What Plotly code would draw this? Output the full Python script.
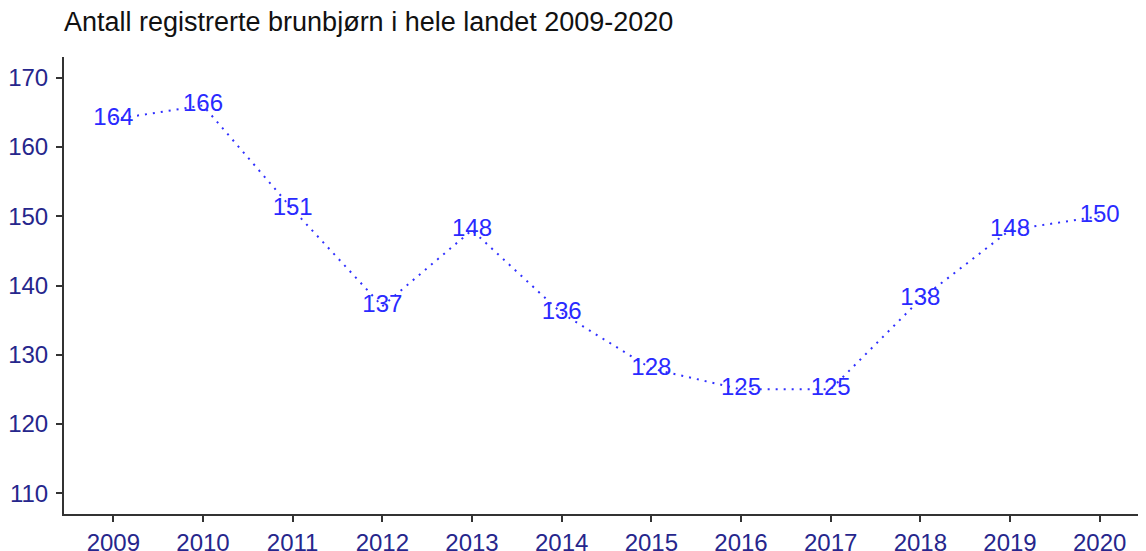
import plotly.graph_objects as go

years = [2009, 2010, 2011, 2012, 2013, 2014, 2015, 2016, 2017, 2018, 2019, 2020]
bears = [164, 166, 151, 137, 148, 136, 128, 125, 125, 138, 148, 150]
title = "Antall registrerte brunbjørn i hele landet 2009-2020"

fig = go.Figure(go.Scatter(
    x=years, y=bears, mode="lines+text",
    text=[str(v) for v in bears], textposition="middle center",
    textfont=dict(family="Liberation Sans, Arial", size=24, color="#2a2aff"),
    line=dict(color="#3030ff", width=2, dash="2px,6px"),
    hoverinfo="x+y", showlegend=False,
))

# page body has an 8px margin; compensate so the plot lands where the reference has it
fig.update_layout(
    width=1146, height=551,
    margin=dict(l=56, r=14, t=49, b=45),
    paper_bgcolor="white", plot_bgcolor="white",
    title=dict(text=title, x=56/1146, xref="container", xanchor="left",
               y=1 - 14/551, yanchor="middle", yref="container",
               font=dict(family="Liberation Sans, Arial", size=27, color="#111111")),
    font=dict(family="Liberation Sans, Arial"),
)
fig.update_xaxes(range=[2008.45, 2020.45], tickvals=years, ticktext=[str(y) for y in years],
                 showline=True, linecolor="#333333", linewidth=2, ticks="outside",
                 ticklen=6, tickcolor="#333333", tickwidth=2, showgrid=False, zeroline=False,
                 automargin=False,
                 tickfont=dict(size=24, color="#26268c"))
fig.update_yaxes(range=[107, 173], tickvals=[110, 120, 130, 140, 150, 160, 170],
                 showline=True, linecolor="#333333", linewidth=2, ticks="outside",
                 ticklen=6, tickcolor="#333333", tickwidth=2, showgrid=False, zeroline=False,
                 automargin=False, ticklabelstandoff=3,
                 tickfont=dict(size=24, color="#26268c"))

fig.write_html("out.html")
